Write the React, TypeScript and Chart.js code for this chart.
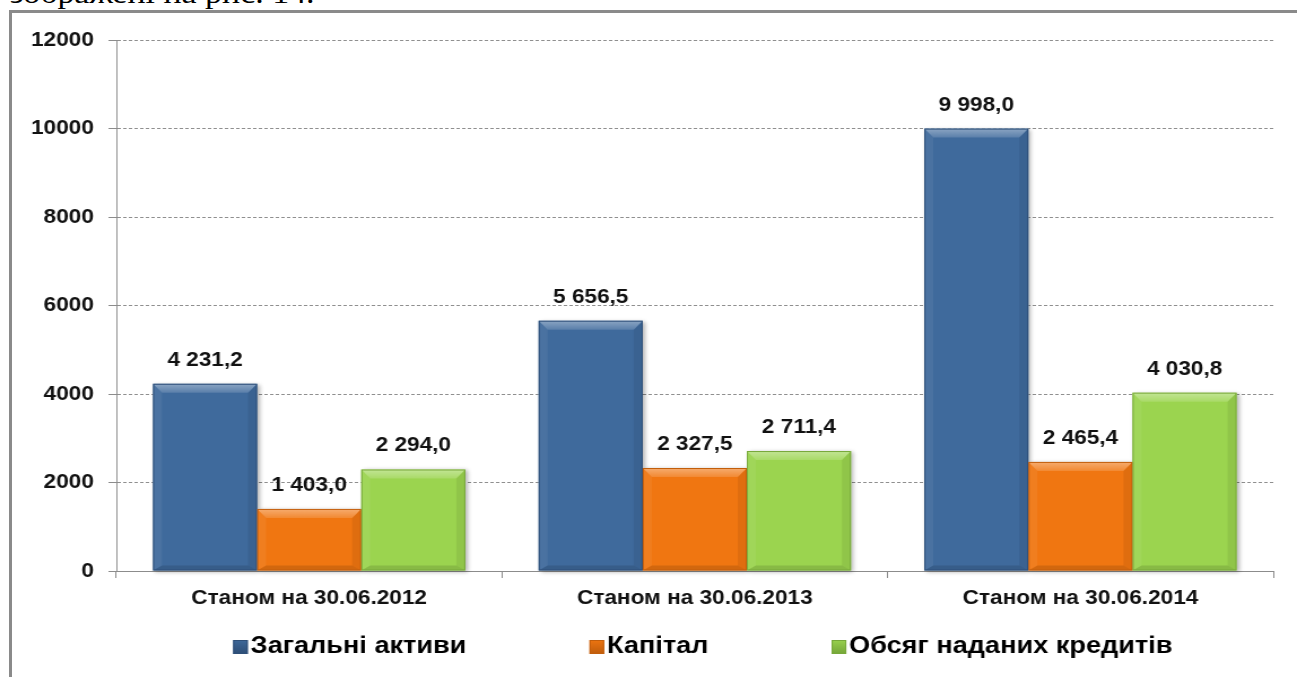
import React, { useEffect, useRef } from 'react';
import { Chart, registerables } from 'chart.js';

Chart.register(...registerables);

// ---- data ----
const categories = ['Станом на 30.06.2012', 'Станом на 30.06.2013', 'Станом на 30.06.2014'];
const seriesNames = ['Загальні активи', 'Капітал', 'Обсяг наданих кредитів'];
const totalAssets = [4231.2, 5656.5, 9998.0];
const capital = [1403.0, 2327.5, 2465.4];
const loans = [2294.0, 2711.4, 4030.8];
const yTickValues = [0, 2000, 4000, 6000, 8000, 10000, 12000];
const captionText = 'зображені на рис. 14.';

// ---- styles ----
const W = 1148;
const H = 677;
const CSS_W = 1297;
const FONT = '"Liberation Sans", Arial, Helvetica, sans-serif';
const fills = ['#3F6A9C', '#F07611', '#9BD44F'];
const borders = ['#2E4F78', '#C25E0C', '#77A83A'];

function fmt(v: number): string {
  const [i, d] = v.toFixed(1).split('.');
  const withSpaces = i.replace(/\B(?=(\d{3})+(?!\d))/g, ' ');
  return withSpaces + ',' + d;
}

const shadowPlugin = {
  id: 'barShadow',
  beforeDatasetsDraw(chart: any) {
    const ctx = chart.ctx;
    ctx.save();
    chart.data.datasets.forEach((_ds: any, di: number) => {
      const meta = chart.getDatasetMeta(di);
      meta.data.forEach((el: any) => {
        const { x, y, base, width } = el.getProps(['x', 'y', 'base', 'width'], true);
        ctx.shadowColor = 'rgba(0,0,0,0.3)';
        ctx.shadowBlur = 4;
        ctx.shadowOffsetX = 2;
        ctx.shadowOffsetY = 1;
        ctx.fillStyle = '#ffffff';
        ctx.fillRect(x - width / 2, y, width, base - y);
      });
    });
    ctx.restore();
  },
};

const bevelPlugin = {
  id: 'bevel',
  afterDatasetsDraw(chart: any) {
    const ctx = chart.ctx;
    const bx = 8;
    const by = 9;
    ctx.save();
    chart.data.datasets.forEach((_ds: any, di: number) => {
      const meta = chart.getDatasetMeta(di);
      meta.data.forEach((el: any) => {
        const { x, y, base, width } = el.getProps(['x', 'y', 'base', 'width'], true);
        const l = x - width / 2;
        const r = x + width / 2;
        const t = y;
        const b = base;
        const h = b - t;
        const vy = Math.min(by, h / 2);
        const vb = Math.min(5, h / 3);
        const poly = (pts: number[][], fill: any) => {
          ctx.beginPath();
          ctx.moveTo(pts[0][0], pts[0][1]);
          for (let k = 1; k < pts.length; k++) ctx.lineTo(pts[k][0], pts[k][1]);
          ctx.closePath();
          ctx.fillStyle = fill;
          ctx.fill();
        };
        // top face
        const gTop = ctx.createLinearGradient(0, t, 0, t + vy);
        gTop.addColorStop(0, 'rgba(255,255,255,0.40)');
        gTop.addColorStop(1, 'rgba(255,255,255,0.14)');
        poly([[l, t], [r, t], [r - bx, t + vy], [l + bx, t + vy]], gTop);
        // left face
        poly([[l, t], [l + bx, t + vy], [l + bx, b - vb], [l, b]], 'rgba(255,255,255,0.06)');
        // right face
        poly([[r, t], [r - bx, t + vy], [r - bx, b - vb], [r, b]], 'rgba(0,0,0,0.07)');
        // bottom face
        poly([[l, b], [r, b], [r - bx, b - vb], [l + bx, b - vb]], 'rgba(0,0,0,0.12)');
        // outline
        ctx.strokeStyle = borders[di];
        ctx.lineWidth = 1;
        ctx.strokeRect(l + 0.5, t + 0.5, width - 1, h - 1);
      });
    });
    ctx.restore();
  },
};

const labelPlugin = {
  id: 'valueLabels',
  afterDatasetsDraw(chart: any) {
    const ctx = chart.ctx;
    ctx.save();
    ctx.font = `bold 20px ${FONT}`;
    ctx.fillStyle = '#111111';
    ctx.textAlign = 'center';
    ctx.textBaseline = 'alphabetic';
    chart.data.datasets.forEach((ds: any, di: number) => {
      const meta = chart.getDatasetMeta(di);
      meta.data.forEach((el: any, i: number) => {
        const { x, y } = el.getProps(['x', 'y'], true);
        ctx.fillText(fmt(ds.data[i]), x, y - 18);
      });
    });
    ctx.restore();
  },
};

const legendPlugin = {
  id: 'customLegend',
  afterDraw(chart: any) {
    const ctx = chart.ctx;
    const area = chart.chartArea;
    const fontSize = 24;
    const box = 13;
    const boxH = 14;
    const gap = 2.5;
    const spacing = 109;
    ctx.save();
    ctx.font = `bold ${fontSize}px ${FONT}`;
    const items = chart.data.datasets.map((ds: any, di: number) => ({
      text: ds.label,
      color: fills[di],
      border: borders[di],
      w: box + gap + ctx.measureText(ds.label).width,
    }));
    const total = items.reduce((s: number, it: any) => s + it.w, 0) + spacing * (items.length - 1);
    const cx = (area.left + area.right) / 2 + 7;
    const cy = area.bottom + 75;
    let x = cx - total / 2;
    items.forEach((it: any) => {
      const g = ctx.createLinearGradient(0, cy - boxH / 2, 0, cy + boxH / 2);
      g.addColorStop(0, it.color);
      g.addColorStop(1, it.border);
      ctx.fillStyle = g;
      ctx.fillRect(x, cy - boxH / 2 + 1, box, boxH);
      ctx.strokeStyle = it.border;
      ctx.lineWidth = 1;
      ctx.strokeRect(x + 0.5, cy - boxH / 2 + 1.5, box - 1, boxH - 1);
      ctx.fillStyle = '#000000';
      ctx.textAlign = 'left';
      ctx.textBaseline = 'middle';
      ctx.fillText(it.text, x + box + gap, cy);
      x += it.w + spacing;
    });
    ctx.restore();
  },
};

export default function App() {
  const ref = useRef<HTMLCanvasElement | null>(null);

  useEffect(() => {
    if (!ref.current) return;
    const chart = new Chart(ref.current, {
      type: 'bar',
      data: {
        labels: categories,
        datasets: [
          { label: seriesNames[0], data: totalAssets, backgroundColor: fills[0] },
          { label: seriesNames[1], data: capital, backgroundColor: fills[1] },
          { label: seriesNames[2], data: loans, backgroundColor: fills[2] },
        ],
      },
      options: {
        responsive: false,
        devicePixelRatio: 1,
        animation: false,
        events: [],
        layout: { padding: { left: 0, right: 21, top: 40, bottom: 66 } },
        datasets: {
          bar: { categoryPercentage: 0.81, barPercentage: 1.0, borderWidth: 0 },
        },
        plugins: {
          legend: { display: false },
          tooltip: { enabled: false },
          title: { display: false },
        },
        scales: {
          x: {
            grid: {
              offset: true,
              drawOnChartArea: false,
              drawTicks: true,
              tickLength: 7,
              color: '#8c8c8c',
              lineWidth: 1,
            },
            border: { display: true, color: '#8c8c8c', width: 1 },
            ticks: {
              color: '#111111',
              font: { family: FONT, size: 20, weight: 'bold' },
              padding: 8,
              maxRotation: 0,
            },
            afterFit(scale: any) {
              scale.height = 40;
            },
          },
          y: {
            min: 0,
            max: 12000,
            afterBuildTicks(scale: any) {
              scale.ticks = yTickValues.map((v) => ({ value: v }));
            },
            grid: {
              color: '#8f8f8f',
              lineWidth: 1,
              tickLength: 7,
              tickColor: '#8c8c8c',
              tickBorderDash: [],
            },
            border: { display: true, color: '#8c8c8c', width: 1, dash: [3, 2] },
            ticks: {
              color: '#111111',
              font: { family: FONT, size: 20, weight: 'bold' },
              padding: 13,
              callback: (v: any) => String(v),
            },
            afterFit(scale: any) {
              scale.width = 103;
            },
          },
        },
      },
      plugins: [shadowPlugin, bevelPlugin, labelPlugin, legendPlugin],
    } as any);
    return () => chart.destroy();
  }, []);

  return (
    <div style={{ position: 'fixed', left: 0, top: 0, width: CSS_W, height: H, overflow: 'hidden', background: '#ffffff' }}>
      <div
        style={{
          position: 'absolute',
          left: 10,
          top: -22,
          fontFamily: '"Liberation Serif", "Times New Roman", serif',
          fontSize: 30,
          lineHeight: '30px',
          whiteSpace: 'nowrap',
          color: '#000',
          transform: 'scaleX(1.13)',
          transformOrigin: 'left top',
        }}
      >
        {captionText}
      </div>
      <div
        style={{
          position: 'absolute',
          left: 9,
          top: 10,
          width: 2000,
          height: 2000,
          borderTop: '3px solid #8a8a8a',
          borderLeft: '3px solid #8a8a8a',
          boxSizing: 'border-box',
        }}
      />
      <canvas
        ref={ref}
        width={W}
        height={H}
        style={{ position: 'absolute', left: 0, top: 0, width: CSS_W, height: H }}
      />
    </div>
  );
}
